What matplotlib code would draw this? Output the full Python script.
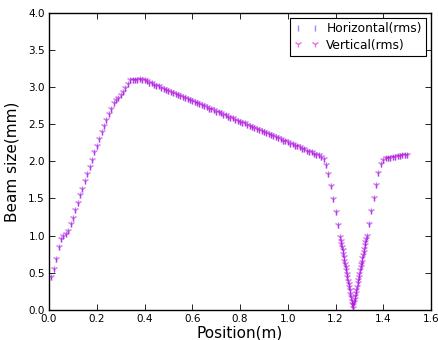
import numpy as np
import matplotlib
matplotlib.use("Agg")
import matplotlib.pyplot as plt

# beam size along the line, step 0.01 m from 0.01 to 1.21
x_left = np.round(np.arange(1, 122) * 0.01, 4)
size_left = [0.44, 0.55, 0.68, 0.84, 0.96, 1.00, 1.02, 1.06, 1.15, 1.24,
             1.34, 1.44, 1.54, 1.63, 1.73, 1.83, 1.93, 2.02, 2.12, 2.21,
             2.30, 2.39, 2.48, 2.56, 2.64, 2.71, 2.79, 2.82, 2.86, 2.89,
             2.93, 2.99, 3.04, 3.09, 3.09, 3.09, 3.10, 3.11, 3.10, 3.09,
             3.08, 3.06, 3.05, 3.03, 3.02, 3.01, 2.99, 2.98, 2.96, 2.95,
             2.94, 2.92, 2.91, 2.90, 2.88, 2.87, 2.85, 2.84, 2.83, 2.81,
             2.80, 2.78, 2.77, 2.76, 2.74, 2.73, 2.71, 2.70, 2.69, 2.67,
             2.66, 2.65, 2.63, 2.62, 2.60, 2.59, 2.58, 2.56, 2.55, 2.53,
             2.52, 2.51, 2.49, 2.48, 2.46, 2.45, 2.44, 2.42, 2.41, 2.39,
             2.38, 2.37, 2.35, 2.34, 2.33, 2.31, 2.30, 2.28, 2.27, 2.26,
             2.24, 2.23, 2.21, 2.20, 2.19, 2.17, 2.16, 2.14, 2.13, 2.12,
             2.10, 2.09, 2.08, 2.06, 2.03, 1.95, 1.83, 1.67, 1.49, 1.32,
             1.14]

# focus region, finer steps (0.0025 m)
x_focus = np.round(1.22 + np.arange(45) * 0.0025, 4)
size_focus = [0.98, 0.93, 0.89, 0.84, 0.80, 0.75, 0.71, 0.66, 0.62, 0.57,
              0.53, 0.48, 0.44, 0.39, 0.35, 0.30, 0.26, 0.21, 0.17, 0.12,
              0.08, 0.03,
              0.06, 0.10, 0.14, 0.19, 0.23, 0.27, 0.31, 0.36, 0.40, 0.44,
              0.48, 0.53, 0.57, 0.61, 0.65, 0.70, 0.74, 0.78, 0.82, 0.87,
              0.91, 0.95, 0.99]

# after the focus, step 0.01 m
x_right = np.round(np.arange(134, 151) * 0.01, 4)
size_right = [1.16, 1.33, 1.51, 1.68, 1.84, 1.96, 2.02, 2.04, 2.05, 2.05,
              2.06, 2.06, 2.07, 2.07, 2.08, 2.08, 2.09]

pos = np.concatenate([x_left, x_focus, x_right])
hor = np.concatenate([size_left, size_focus, size_right])
ver = hor.copy()

fig = plt.figure(figsize=(4.38, 3.4), dpi=100)
ax = fig.add_axes([0.112, 0.089, 0.872, 0.873])

ax.plot(pos, hor, linestyle='none', marker='|', color='#3030ff', alpha=0.55,
        markersize=5, markeredgewidth=1.0, label='Horizontal(rms)')
ax.plot(pos, ver, linestyle='none', marker='1', color='#d000d0', alpha=0.55,
        markersize=5, markeredgewidth=1.0, label='Vertical(rms)')

ax.set_xlim(0, 1.6)
ax.set_ylim(0, 4.0)
ax.set_xticks(np.arange(0, 1.61, 0.2))
ax.set_yticks(np.arange(0, 4.01, 0.5))
ax.set_xticklabels(['0.0', '0.2', '0.4', '0.6', '0.8', '1.0', '1.2', '1.4', '1.6'])
ax.set_yticklabels(['0.0', '0.5', '1.0', '1.5', '2.0', '2.5', '3.0', '3.5', '4.0'])
ax.tick_params(direction='in', top=True, right=True, length=4, width=0.6,
               labelsize=7.5, pad=3)
for s in ax.spines.values():
    s.set_linewidth(1.0)

ax.set_xlabel('Position(m)', fontsize=11, labelpad=1)
ax.set_ylabel('Beam size(mm)', fontsize=11, labelpad=6)

leg = ax.legend(loc='upper right', numpoints=2, fontsize=8.8, fancybox=False,
                framealpha=1, edgecolor='black', borderaxespad=0.4,
                handletextpad=0.6, borderpad=0.35, labelspacing=0.3)
leg.get_frame().set_linewidth(0.8)

fig.savefig('out.png', dpi=100)
